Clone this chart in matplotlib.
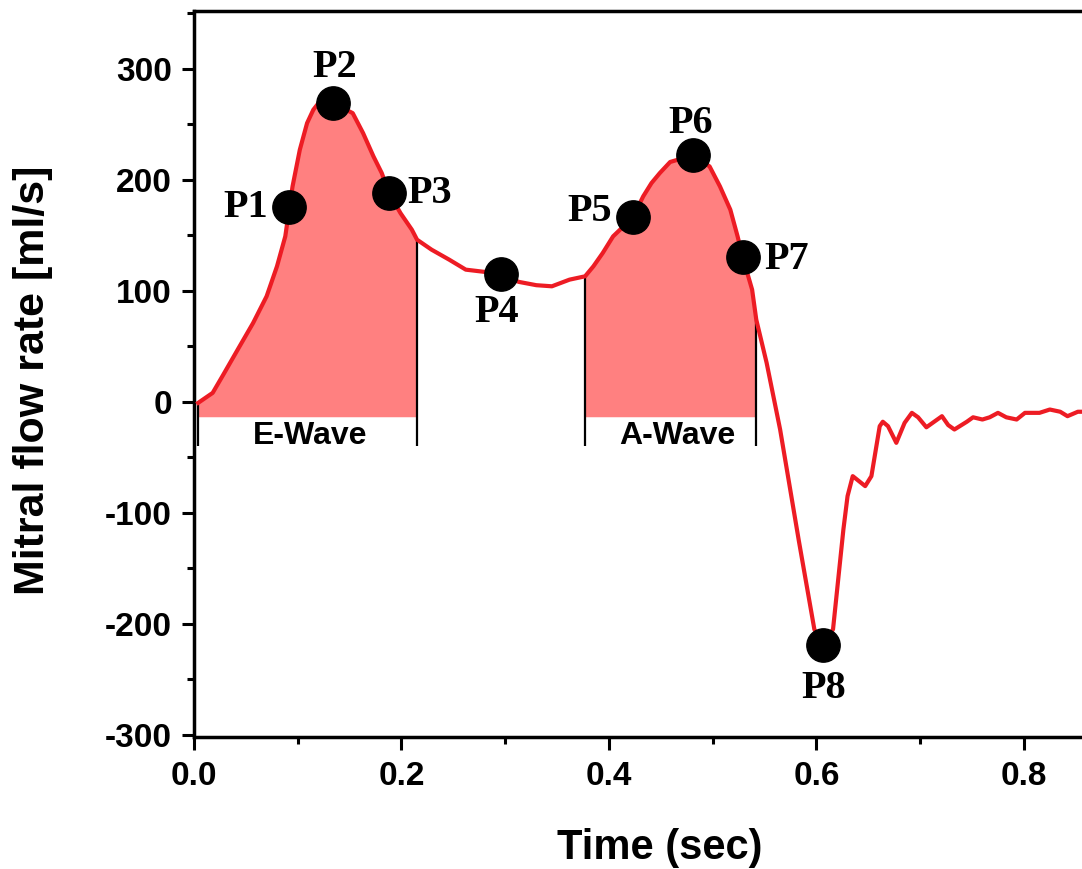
import numpy as np
import matplotlib
matplotlib.use("Agg")
import matplotlib.pyplot as plt
from matplotlib.ticker import MultipleLocator, FormatStrFormatter

plt.rcParams["axes.unicode_minus"] = False

# mitral flow curve
t = [0.004, 0.018, 0.028, 0.044, 0.057, 0.070, 0.080, 0.088, 0.092, 0.095,
     0.102, 0.109, 0.115, 0.120, 0.134, 0.153, 0.163, 0.173, 0.181, 0.188,
     0.199, 0.210, 0.215, 0.229, 0.246, 0.262, 0.280, 0.296, 0.313, 0.330,
     0.345, 0.362, 0.377, 0.385, 0.394, 0.404, 0.423, 0.433, 0.441, 0.449,
     0.459, 0.481, 0.497, 0.507, 0.517, 0.524, 0.529, 0.538, 0.542, 0.552,
     0.565, 0.583, 0.598, 0.606, 0.616, 0.626, 0.630, 0.635, 0.647, 0.653,
     0.661, 0.664, 0.669, 0.677, 0.685, 0.692, 0.698, 0.706, 0.712, 0.721,
     0.727, 0.733, 0.745, 0.751, 0.760, 0.767, 0.775, 0.783, 0.793, 0.801,
     0.815, 0.825, 0.835, 0.842, 0.852, 0.860]
flow = [-1, 8, 24, 50, 71, 95, 122, 149, 175, 194,
        227, 251, 263, 269, 269, 260, 242, 221, 206, 188,
        170, 155, 146, 137, 128, 119, 117, 115, 108, 105,
        104, 110, 113, 122, 134, 149, 166, 185, 197, 206,
        216, 222, 212, 194, 173, 149, 130, 101, 74, 35,
        -25, -125, -205, -219, -205, -115, -85, -67, -76, -67,
        -22, -18, -22, -37, -19, -10, -14, -23, -19, -13,
        -21, -25, -18, -14, -16, -14, -10, -14, -16, -10,
        -10, -7, -9, -13, -9, -9]

# marked points
pt_names = ["P1", "P2", "P3", "P4", "P5", "P6", "P7", "P8"]
pt_t = [0.092, 0.134, 0.188, 0.296, 0.423, 0.481, 0.529, 0.606]
pt_v = [175, 269, 188, 115, 166, 222, 130, -219]
# label positions
lab_t = [0.050, 0.136, 0.227, 0.292, 0.381, 0.479, 0.571, 0.607]
lab_v = [175, 301, 188, 80, 171, 251, 128, -258]

# wave windows
e_wave = (0.004, 0.215)
a_wave = (0.377, 0.542)
fill_base = -13.5
bar_bottom = -40

red = "#ED1C24"
pink = "#FF8080"

t = np.array(t)
flow = np.array(flow)

fig = plt.figure(figsize=(10.82, 8.69), dpi=100)
ax = fig.add_axes([194 / 1082, 1 - 737 / 869, 1 - 194 / 1082, (737 - 11) / 869])

for (t0, t1) in (e_wave, a_wave):
    m = (t >= t0) & (t <= t1)
    ax.fill_between(t[m], flow[m], fill_base, color=pink, linewidth=0, zorder=1)
    v0 = np.interp(t0, t, flow)
    v1 = np.interp(t1, t, flow)
    ax.vlines([t0, t1], bar_bottom, [v0, v1], color="black", linewidth=1.6, zorder=2)

ax.plot(t, flow, color=red, linewidth=3, zorder=3, solid_joinstyle="round")
ax.plot(pt_t, pt_v, "o", color="black", markersize=24, zorder=4)

for name, x, y in zip(pt_names, lab_t, lab_v):
    ax.text(x, y, name, ha="center", va="center", fontsize=29,
            fontweight="bold", family="Liberation Serif", zorder=5)

ax.text(np.mean(e_wave) + 0.002, -31, "E-Wave", ha="center", va="center",
        fontsize=23, fontweight="bold", family="Liberation Sans")
ax.text(np.mean(a_wave) + 0.006, -31, "A-Wave", ha="center", va="center",
        fontsize=23, fontweight="bold", family="Liberation Sans")

ax.set_xlim(0, 0.856)
ax.set_ylim(-302, 352)
ax.xaxis.set_major_locator(MultipleLocator(0.2))
ax.xaxis.set_minor_locator(MultipleLocator(0.1))
ax.xaxis.set_major_formatter(FormatStrFormatter("%.1f"))
ax.yaxis.set_major_locator(MultipleLocator(100))
ax.yaxis.set_minor_locator(MultipleLocator(50))

ax.spines["right"].set_visible(False)
for s in ("left", "top", "bottom"):
    ax.spines[s].set_linewidth(2.5)

ax.tick_params(which="both", direction="out", width=2.2, top=False, right=False)
ax.tick_params(which="major", length=9)
ax.tick_params(which="minor", length=5)
ax.tick_params(axis="y", which="major", pad=7)
ax.tick_params(axis="x", which="major", pad=8)
for lbl in ax.get_xticklabels() + ax.get_yticklabels():
    lbl.set_fontsize(24)
    lbl.set_fontweight("bold")
    lbl.set_family("Liberation Sans")

ax.set_xlabel("Time (sec)", fontsize=30, fontweight="bold", family="Liberation Sans", va="center")
ax.xaxis.set_label_coords((660 - 194) / 888, -(848 - 737) / 726)
ax.set_ylabel("Mitral flow rate [ml/s]", fontsize=31, fontweight="bold", family="Liberation Sans", va="center")
ax.yaxis.set_label_coords(-(194 - 33) / 888, (737 - 380) / 726)

fig.savefig("out.png", dpi=100)
